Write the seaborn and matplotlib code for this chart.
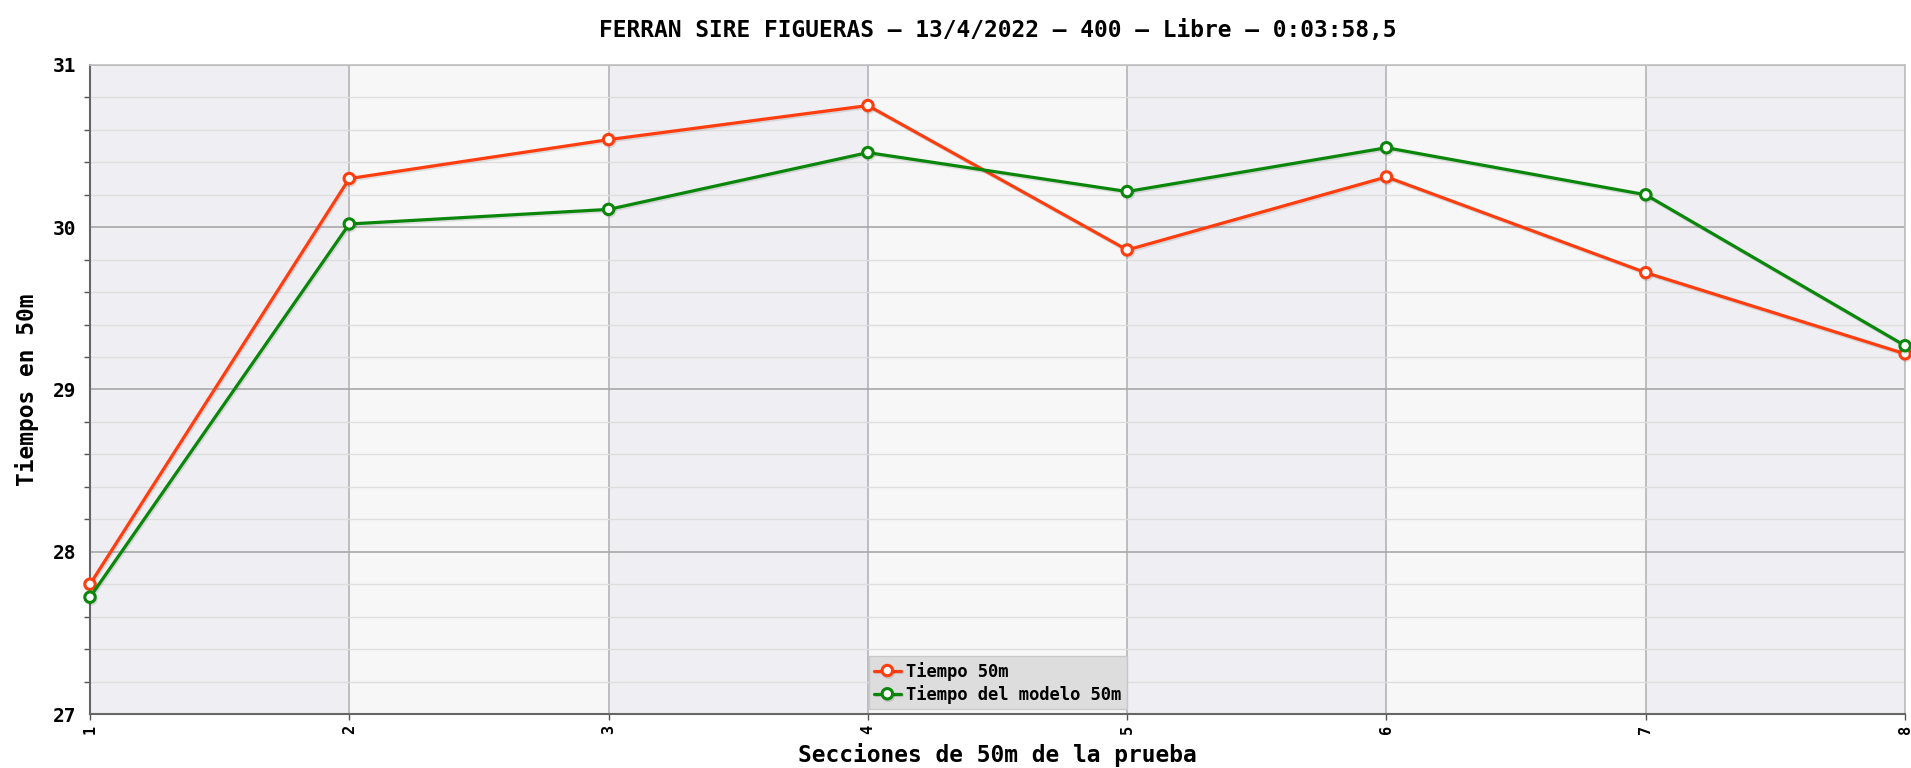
import matplotlib
matplotlib.use("Agg")
import matplotlib.pyplot as plt
import matplotlib.patheffects as pe
from matplotlib.ticker import MultipleLocator
import seaborn as sns
import pandas as pd

secciones = [1, 2, 3, 4, 5, 6, 7, 8]
tiempo_50m = [27.80, 30.30, 30.54, 30.75, 29.86, 30.31, 29.72, 29.22]
tiempo_modelo_50m = [27.72, 30.02, 30.11, 30.46, 30.22, 30.49, 30.20, 29.27]
series_names = ["Tiempo 50m", "Tiempo del modelo 50m"]
series_colors = ["#ff3d0f", "#0a870a"]
title = "FERRAN SIRE FIGUERAS – 13/4/2022 – 400 – Libre – 0:03:58,5"
xlabel = "Secciones de 50m de la prueba"
ylabel = "Tiempos en 50m"

sns.set_theme(style="white")
plt.rcParams["font.family"] = ["DejaVu Sans Mono", "DejaVu Sans"]
plt.rcParams["font.weight"] = "bold"
plt.rcParams["text.color"] = "black"
plt.rcParams["axes.labelcolor"] = "black"
plt.rcParams["xtick.color"] = "black"
plt.rcParams["ytick.color"] = "black"

fig = plt.figure(figsize=(19.11, 7.68), dpi=100)
ax = fig.add_axes([0.0471, 0.0703, 0.9498, 0.8451])

# alternating background bands
for i in range(len(secciones) - 1):
    col = "#efeff3" if i % 2 == 0 else "#f7f7f7"
    ax.axvspan(secciones[i], secciones[i + 1], color=col, zorder=0, lw=0)

df = pd.DataFrame({
    "Sección": secciones * 2,
    "Tiempo": tiempo_50m + tiempo_modelo_50m,
    "Serie": [series_names[0]] * len(secciones) + [series_names[1]] * len(secciones),
})

for name, color in zip(series_names, series_colors):
    sub = df[df["Serie"] == name]
    sns.lineplot(data=sub, x="Sección", y="Tiempo", ax=ax, color=color,
                 linewidth=2.3, marker="o", markersize=7.5,
                 markerfacecolor="white", markeredgecolor=color,
                 markeredgewidth=2.2, label=name, zorder=5, clip_on=False,
                 path_effects=[pe.SimpleLineShadow(offset=(0.8, -1.2), alpha=0.12),
                               pe.Normal()])

ax.set_xlim(1, 8)
ax.set_ylim(27, 31)
ax.set_xticks(secciones)
ax.set_xticklabels([str(s) for s in secciones], rotation=90, fontsize=11,
                   fontweight="bold")
ax.yaxis.set_major_locator(MultipleLocator(1))
ax.yaxis.set_minor_locator(MultipleLocator(0.2))
ax.tick_params(axis="y", which="major", labelsize=14, length=0, pad=10)
ax.tick_params(axis="y", which="minor", length=4, width=1, color="#555555",
               left=True)
ax.tick_params(axis="x", which="major", length=4, width=1, color="#555555",
               bottom=True, pad=4)
for lbl in ax.get_yticklabels():
    lbl.set_fontweight("bold")

ax.grid(which="major", axis="y", color="#a8a8a8", lw=1.2, zorder=1)
ax.grid(which="minor", axis="y", color="#dedede", lw=1.0, zorder=1)
ax.grid(which="major", axis="x", color="#b4b4b4", lw=1.2, zorder=1)
ax.set_axisbelow(True)

for side in ["top", "right"]:
    ax.spines[side].set_color("#c0c0c0")
    ax.spines[side].set_linewidth(1.2)
for side in ["left", "bottom"]:
    ax.spines[side].set_color("#666666")
    ax.spines[side].set_linewidth(1.5)

ax.set_title(title, fontsize=16.5, fontweight="bold", pad=20, color="black")
ax.set_xlabel(xlabel, fontsize=16.5, fontweight="bold", labelpad=6)
ax.set_ylabel(ylabel, fontsize=16.5, fontweight="bold", labelpad=10)

leg = ax.legend(loc="lower center", bbox_to_anchor=(0.5, 0.0), fontsize=12.3,
                frameon=True, fancybox=False, handlelength=1.6,
                handletextpad=0.3, borderpad=0.3, labelspacing=0.25,
                borderaxespad=0.3)
leg.get_frame().set_facecolor("#dcdcdc")
leg.get_frame().set_edgecolor("#c8c8c8")
leg.get_frame().set_alpha(0.95)
for t in leg.get_texts():
    t.set_fontweight("bold")
    t.set_color("black")

fig.savefig("out.png", dpi=100)
